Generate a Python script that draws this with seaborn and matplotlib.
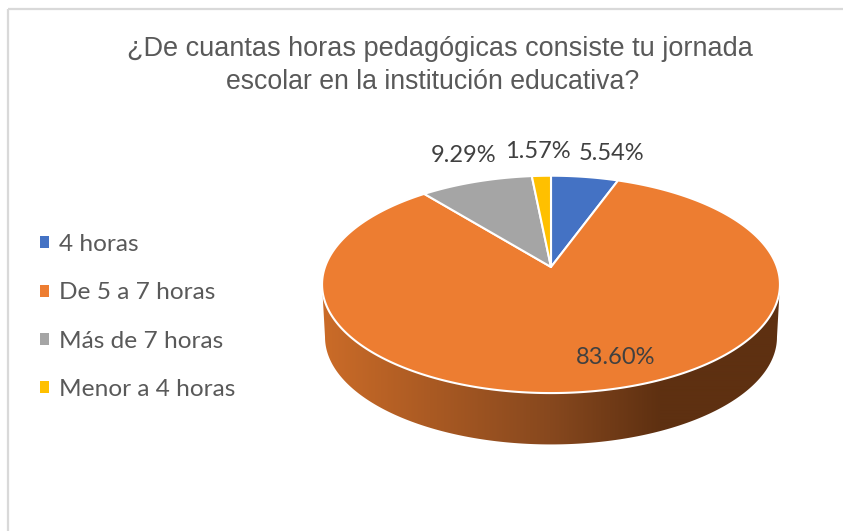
import numpy as np
import matplotlib.pyplot as plt
from matplotlib.patches import Polygon, Patch
import seaborn as sns

categories = ['4 horas', 'De 5 a 7 horas', 'Más de 7 horas', 'Menor a 4 horas']
percentages = [5.54, 83.60, 9.29, 1.57]
slice_colors = ['#4472C4', '#ED7D31', '#A5A5A5', '#FFC000']
title_lines = ['¿De cuantas horas pedagógicas consiste tu jornada',
               'escolar en la institución educativa?']

# geometry of the tilted disc, in pixels of the picture
cx, cy = 551, 267
rx, ry = 226, 105.9
persp = 0.16
depth = 53


def project(theta, shift=0, scale=1.0):
    # theta in radians clockwise from north, perspective keeps the apex above the middle
    u, v = np.sin(theta), np.cos(theta)
    d = 1 + persp * v
    return cx + scale * rx * u / d, cy + shift - scale * ry * v / d


def side_color(x):
    # the rim goes from lit orange on the left to dark brown at about x=660
    stops_x = [325, 430, 550, 660, 780]
    stops_c = np.array([[202, 107, 40], [170, 90, 35], [135, 72, 30], [94, 48, 17], [94, 48, 17]])
    return np.array([np.interp(x, stops_x, stops_c[:, i]) for i in range(3)]).T / 255


sns.set_theme(style='white')
plt.rcParams['font.family'] = ['Liberation Sans', 'DejaVu Sans']

fig = plt.figure(figsize=(8.43, 5.31), dpi=100)
ax = fig.add_axes([0, 0, 1, 1])
ax.axis('off')

# chart frame, only left and top show in the picture
ax.plot([8, 8], [531, 9], color='#D9D9D9', lw=1.6, solid_capstyle='butt')
ax.plot([8, 843], [9, 9], color='#D9D9D9', lw=1.6, solid_capstyle='butt')

# rim: front half of the disc between the widest points, pushed down by depth
t_edge = np.linspace(np.pi / 2 + np.arcsin(persp), 3 * np.pi / 2 - np.arcsin(persp), 400)
edge_x, edge_y = project(t_edge)
low_x, low_y = project(t_edge[::-1], shift=depth, scale=0.987)
rim_poly = Polygon(np.c_[np.r_[edge_x, low_x], np.r_[edge_y, low_y]], closed=True,
                   facecolor='none', edgecolor='none')
ax.add_patch(rim_poly)
grad_x = np.arange(320, 785)
grad = side_color(grad_x)[np.newaxis, :, :]
img = ax.imshow(grad, extent=[320, 785, 460, 270], aspect='auto', zorder=1, interpolation='bilinear')
img.set_clip_path(rim_poly)

# top face, clockwise from north
start = 0.0
for value, color in zip(percentages, slice_colors):
    sweep = value / sum(percentages) * 2 * np.pi
    a = np.linspace(start, start + sweep, max(int(value * 8), 12))
    x, y = project(a)
    ax.add_patch(Polygon(np.c_[np.r_[cx, x], np.r_[cy, y]], closed=True, facecolor=color,
                         edgecolor='white', lw=1.5, joinstyle='round', zorder=2))
    start += sweep

ax.set_xlim(0, 843)
ax.set_ylim(531, 0)

# data labels sit at hand-read spots like the Excel ones
label_pos = [(611, 154), (616, 358), (464, 156), (538, 152)]
for value, (lx, ly) in zip(percentages, label_pos):
    ax.text(lx, ly, f'{value:.2f}%', ha='center', va='center', fontsize=17,
            family=['Lato', 'DejaVu Sans'], color='#404040', zorder=3)

# title lines are not quite centred on each other in the original
ax.text(439.5, 49.5, title_lines[0], ha='center', va='center', fontsize=19.5, color='#595959')
ax.text(433, 82, title_lines[1], ha='center', va='center', fontsize=19.2, color='#595959')

handles = [Patch(facecolor=c, edgecolor='none') for c in slice_colors]
leg = ax.legend(handles, categories, loc='upper left', bbox_to_anchor=(40 / 843, 1 - 234 / 531), frameon=False,
                prop={'family': 'Lato', 'size': 17.6}, labelcolor='#595959', handlelength=0.38, handleheight=0.38,
                handletextpad=0.38, labelspacing=1.12, borderpad=0, borderaxespad=0)

fig.savefig('out.png', dpi=100, facecolor='white')
